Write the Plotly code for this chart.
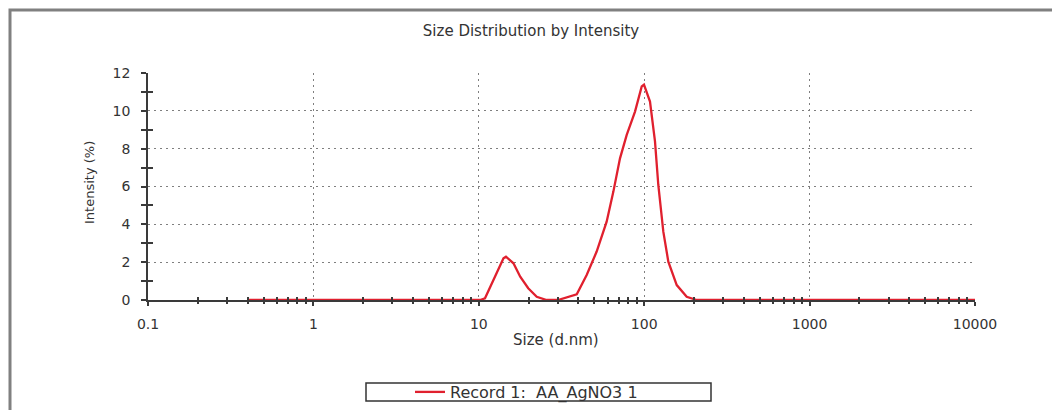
import plotly.graph_objects as go

# ---- data ----
size_nm = [0.4, 10.2, 10.9, 11.7, 12.9, 14.1, 14.6, 16.2, 17.8, 19.9, 22.4, 25.7, 30.1,
           35.6, 39.1, 44.9, 51.6, 59.3, 65.1, 71.4, 78.4, 88.0, 96.6, 99.7, 108.4,
           116.2, 121.7, 130.5, 139.9, 157.3, 180.7, 207.7, 10000]
intensity_pct = [0, 0, 0.09, 0.69, 1.53, 2.2, 2.29, 1.94, 1.23, 0.62, 0.17, 0, 0,
                 0.2, 0.3, 1.32, 2.56, 4.14, 5.73, 7.49, 8.73, 9.96, 11.29, 11.38, 10.49,
                 8.38, 6.08, 3.61, 2.03, 0.79, 0.17, 0, 0]

x_tickvals = [0.1, 1, 10, 100, 1000, 10000]
x_ticktext = ["0.1", "1", "10", "100", "1000", "10000"]
y_tickvals = [0, 2, 4, 6, 8, 10, 12]
y_minor = [1, 3, 5, 7, 9, 11]
x_minor = [m * d for d in [0.1, 1, 10, 100, 1000] for m in range(2, 10)]

series_name = "Record 1:  AA_AgNO3 1"
title_text = "Size Distribution by Intensity"
x_title = "Size (d.nm)"
y_title = "Intensity (%)"

W, H = 1052, 410
L, R, T, B = 148, 77, 73, 110
pw, ph = W - L - R, H - T - B

def px_x(p):
    return (p - L) / pw

def px_y(q):
    return (H - B - q) / ph

FONT = "DejaVu Sans"
TXT = "#333333"
AX = "#3a3a3a"
GRID = "#7f7f7f"

fig = go.Figure()
fig.add_trace(go.Scatter(
    x=size_nm, y=intensity_pct, mode="lines", name=series_name,
    line=dict(color="#e0202e", width=2.3), showlegend=True,
))

fig.update_layout(
    width=W, height=H,
    margin=dict(l=L, r=R, t=T, b=B, autoexpand=False),
    paper_bgcolor="white", plot_bgcolor="white",
    font=dict(family=FONT, size=13, color=TXT),
    title=dict(text=title_text, x=531 / W, xanchor="center", y=1 - 31 / H, yanchor="middle",
               font=dict(family=FONT, size=15, color=TXT)),
    showlegend=True,
    legend=dict(x=px_x(410), xanchor="left", y=px_y(392), yanchor="middle",
                bgcolor="rgba(0,0,0,0)", borderwidth=0,
                font=dict(family=FONT, size=16, color=TXT)),
    xaxis=dict(
        type="log", range=[-1, 4],
        tickmode="array", tickvals=x_tickvals, ticktext=x_ticktext,
        ticks="outside", ticklen=4, tickcolor=AX, tickwidth=1.5,
        ticklabelstandoff=6,
        showline=True, linecolor=AX, linewidth=1.5,
        showgrid=True, gridcolor=GRID, gridwidth=1, griddash="2px,4px",
        zeroline=False,
        minor=dict(tickmode="array", tickvals=x_minor, ticks="inside", ticklen=3,
                   tickcolor=AX, tickwidth=1.5, showgrid=False),
        tickfont=dict(family=FONT, size=14, color=TXT),
    ),
    yaxis=dict(
        range=[0, 12],
        tickmode="array", tickvals=y_tickvals,
        ticks="outside", ticklen=5, tickcolor=AX, tickwidth=1.5,
        ticklabelstandoff=8,
        showline=True, linecolor=AX, linewidth=1.5,
        showgrid=True, gridcolor=GRID, gridwidth=1, griddash="2px,4px",
        zeroline=False,
        minor=dict(tickmode="array", tickvals=y_minor, ticks="outside", ticklen=5,
                   tickcolor=AX, tickwidth=1.5, showgrid=False),
        tickfont=dict(family=FONT, size=14, color=TXT),
    ),
    # overlay axes providing the inner half of crossing minor ticks
    xaxis2=dict(type="log", range=[-1, 4], overlaying="x", anchor="y2", side="bottom",
                showticklabels=False, showgrid=False, zeroline=False, showline=False,
                tickmode="array", tickvals=[], ticks="",
                minor=dict(tickmode="array", tickvals=x_minor, ticks="outside", ticklen=3,
                           tickcolor=AX, tickwidth=1.5, showgrid=False)),
    yaxis2=dict(range=[0, 12], overlaying="y", anchor="x2", side="left",
                showticklabels=False, showgrid=False, zeroline=False, showline=False,
                tickmode="array", tickvals=[], ticks="",
                minor=dict(tickmode="array", tickvals=y_minor, ticks="inside", ticklen=5,
                           tickcolor=AX, tickwidth=1.5, showgrid=False)),
    annotations=[
        dict(text=x_title, xref="paper", yref="paper", x=px_x(556), y=px_y(340),
             xanchor="center", yanchor="middle", showarrow=False,
             font=dict(family=FONT, size=15, color=TXT)),
        dict(text=y_title, xref="paper", yref="paper", x=px_x(89), y=px_y(183),
             xanchor="center", yanchor="middle", showarrow=False, textangle=-90,
             font=dict(family=FONT, size=13, color=TXT)),
    ],
    shapes=[
        # outer frame (left and top edges visible)
        dict(type="rect", xref="paper", yref="paper",
             x0=px_x(10), x1=px_x(1070), y0=px_y(430), y1=px_y(10),
             line=dict(color="#808080", width=3), fillcolor="rgba(0,0,0,0)", layer="below"),
        # legend box
        dict(type="rect", xref="paper", yref="paper",
             x0=px_x(366), x1=px_x(711), y0=px_y(401), y1=px_y(383),
             line=dict(color="#333333", width=1.5), fillcolor="rgba(0,0,0,0)"),
    ],
)

# empty trace to anchor the overlay axes
fig.add_trace(go.Scatter(x=[], y=[], xaxis="x2", yaxis="y2", showlegend=False,
                         hoverinfo="skip"))

fig.write_html("out.html")
